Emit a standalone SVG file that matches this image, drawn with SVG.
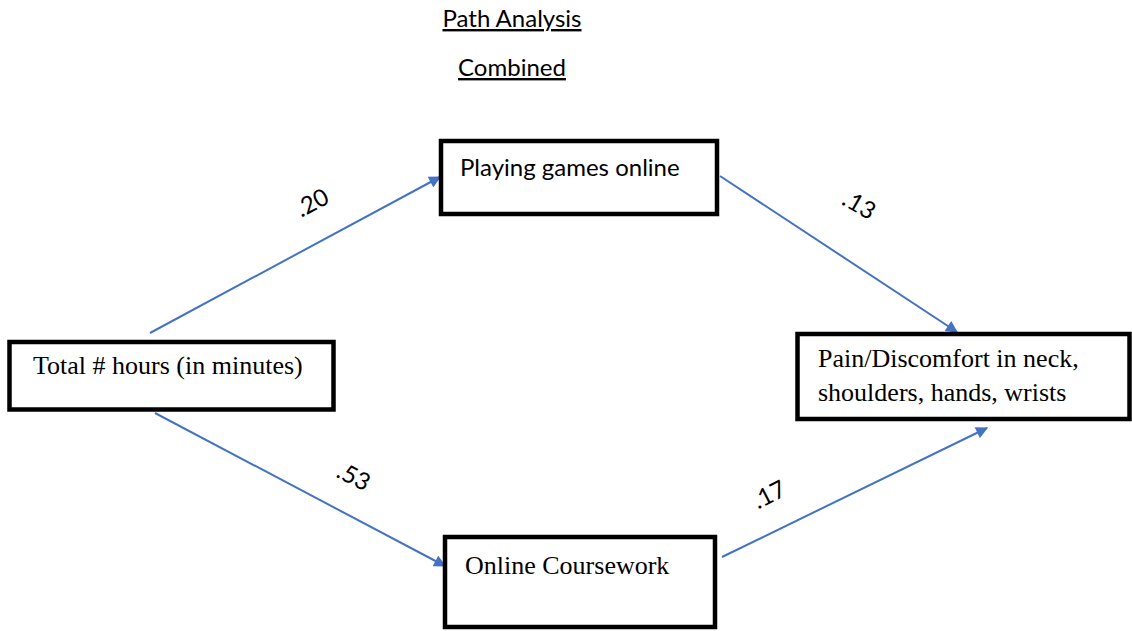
<svg xmlns="http://www.w3.org/2000/svg" width="1132" height="631" viewBox="0 0 1132 631">
  <style>
    .box { fill: #ffffff; stroke: #000000; stroke-width: 4.5; }
    .serif { font-family: "Liberation Serif", "Times New Roman", serif; font-size: 26px; fill: #000; }
    .sans { font-family: "Lato", "Open Sans", sans-serif; font-size: 24px; fill: #000; }
    .title { font-family: "Lato", "Open Sans", sans-serif; font-size: 24px; fill: #000; text-decoration: underline; }
    .coef { font-family: "Lato", "Open Sans", sans-serif; font-size: 24px; fill: #000; }
    .edge { stroke: #4472C4; stroke-width: 2; fill: none; marker-end: url(#arrow); }
  </style>
  <defs>
    <marker id="arrow" viewBox="0 0 10 10" refX="9" refY="5" markerWidth="13" markerHeight="12" markerUnits="userSpaceOnUse" orient="auto">
      <path d="M0,0 L10,5 L0,10 z" fill="#4472C4"/>
    </marker>
  </defs>
  <rect width="1132" height="631" fill="#ffffff"/>

  <g id="titles">
    <text class="title" x="512" y="27" text-anchor="middle">Path Analysis</text>
    <text class="title" x="512" y="76" text-anchor="middle">Combined</text>
  </g>

  <g id="connectors">
    <line class="edge" x1="150" y1="333" x2="440" y2="177"/>
    <line class="edge" x1="720" y1="176" x2="957" y2="332"/>
    <line class="edge" x1="155" y1="413" x2="445" y2="566"/>
    <line class="edge" x1="722" y1="557" x2="987" y2="428"/>
  </g>

  <g id="coefficients">
    <text class="coef" transform="translate(316 210) rotate(-28)" text-anchor="middle">.20</text>
    <text class="coef" transform="translate(855 212) rotate(30)" text-anchor="middle">.13</text>
    <text class="coef" transform="translate(350 484) rotate(27)" text-anchor="middle">.53</text>
    <text class="coef" transform="translate(773 502) rotate(-27)" text-anchor="middle">.17</text>
  </g>

  <g id="node-games">
    <rect class="box" x="441" y="141" width="276" height="73"/>
    <text class="sans" x="460" y="176">Playing games online</text>
  </g>

  <g id="node-total">
    <rect class="box" x="9.5" y="342" width="324" height="67.5"/>
    <text class="serif" x="33" y="374">Total # hours (in minutes)</text>
  </g>

  <g id="node-pain">
    <rect class="box" x="797.5" y="334" width="332" height="85"/>
    <text class="serif" x="818" y="367">Pain/Discomfort in neck,</text>
    <text class="serif" x="818" y="401">shoulders, hands, wrists</text>
  </g>

  <g id="node-coursework">
    <rect class="box" x="445" y="537" width="270" height="90"/>
    <text class="serif" x="465" y="574">Online Coursework</text>
  </g>
</svg>
